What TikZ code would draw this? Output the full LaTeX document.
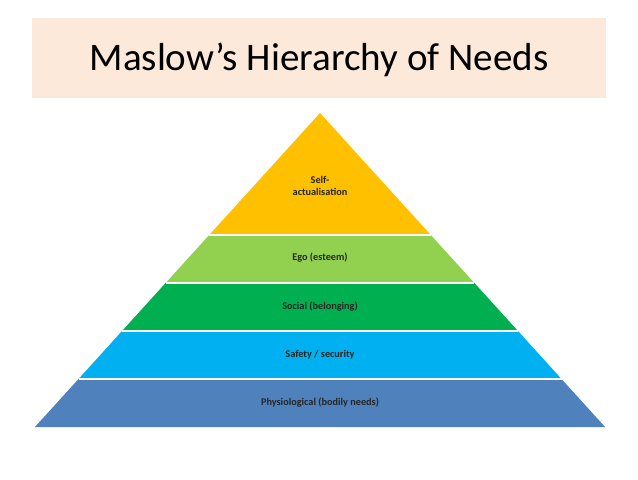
\documentclass[tikz,border=0pt]{standalone}
\usepackage{fontspec}
\setmainfont{Carlito}
\usepackage{tikz}
\usetikzlibrary{positioning}
\definecolor{titlepeach}{RGB}{252, 233, 217}
\definecolor{selfyellow}{RGB}{255, 192, 0}
\definecolor{egogreen}{RGB}{146, 208, 80}
\definecolor{socialgreen}{RGB}{0, 176, 80}
\definecolor{safetycyan}{RGB}{0, 176, 240}
\definecolor{bodyblue}{RGB}{79, 129, 189}

\begin{document}
\begin{tikzpicture}[x=0.75pt, y=-0.75pt,
  layerlabel/.style={font=\fontsize{7.7}{9.2}\selectfont\bfseries, text=black!85, align=center, inner sep=0pt},
  gapline/.style={white, line width=1.6pt}]
  \useasboundingbox (0,0) rectangle (638,479);
  % Title band
  \fill[titlepeach] (32,18) rectangle (606,98);
  \node[font=\fontsize{29.3}{35}\selectfont, inner sep=0pt] (title) at (319,60) {Maslow’s Hierarchy of Needs};

  % Corners
  \coordinate (apex) at (320,113);
  \coordinate (l1) at (209.2,235); \coordinate (r1) at (430.8,235);
  \coordinate (l2) at (165.6,283); \coordinate (r2) at (474.4,283);
  \coordinate (l3) at (122.0,331); \coordinate (r3) at (518.0,331);
  \coordinate (l4) at (78.5,379);  \coordinate (r4) at (561.5,379);
  \coordinate (l5) at (34.9,427);  \coordinate (r5) at (605.1,427);

  % Layers
  \fill[selfyellow] (apex) -- (r1) -- (l1) -- cycle;
  \fill[egogreen] (l1) -- (r1) -- (r2) -- (l2) -- cycle;
  \fill[socialgreen] (l2) -- (r2) -- (r3) -- (l3) -- cycle;
  \fill[safetycyan] (l3) -- (r3) -- (r4) -- (l4) -- cycle;
  \fill[bodyblue] (l4) -- (r4) -- (r5) -- (l5) -- cycle;
  \draw[gapline] (l1) -- (r1);
  \draw[gapline] (l2) -- (r2);
  \draw[gapline] (l3) -- (r3);
  \draw[gapline] (l4) -- (r4);

  % Labels
  \node[layerlabel] (self) at (320,186) {Self-\\actualisation};
  \node[layerlabel] (ego) at (320,258) {Ego (esteem)};
  \node[layerlabel] (social) at (320,307) {Social (belonging)};
  \node[layerlabel] (safety) at (320,355) {Safety / security};
  \node[layerlabel] (physio) at (320,403) {Physiological (bodily needs)};
\end{tikzpicture}
\end{document}
